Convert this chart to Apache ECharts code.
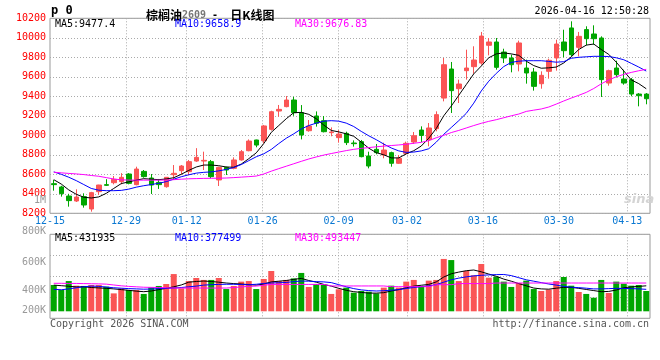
<!DOCTYPE html>
<html><head><meta charset="utf-8">
<script src="https://cdn.jsdelivr.net/npm/echarts@6/dist/echarts.min.js"></script>
<style>html,body{margin:0;padding:0;background:#fff}#c{width:660px;height:360px}</style>
</head><body><div id="c"></div>
<script>
// ---------- data ----------
const dates = ['12-15','12-16','12-17','12-18','12-19','12-22','12-23','12-24','12-25','12-26','12-29','12-30','12-31',
 '01-05','01-06','01-07','01-08','01-09','01-12','01-13','01-14','01-15','01-16','01-19','01-20','01-21','01-22','01-23',
 '01-26','01-27','01-28','01-29','01-30','02-02','02-03','02-04','02-05','02-06','02-09','02-10','02-11','02-12','02-13',
 '02-24','02-25','02-26','02-27','03-02','03-03','03-04','03-05','03-06','03-09','03-10','03-11','03-12','03-13',
 '03-16','03-17','03-18','03-19','03-20','03-23','03-24','03-25','03-26','03-27','03-30','03-31',
 '04-01','04-02','04-03','04-07','04-08','04-09','04-10','04-13','04-14','04-15','04-16'];
const labelIndex = [0,10,18,28,38,47,57,67,76];

const opens = [8504,8470,8377,8326,8371,8244,8422,8494,8514,8525, 8603,8494,8630,8562,8517,8473,8596,8637,8627,8736,
 8736,8730,8542,8671,8661,8747,8842,8952,8945,9061, 9249,9294,9362,9232,9047,9198,9150,9027,8976,9020,
 8921,8935,8788,8856,8798,8822,8713,8815,8931,9054, 8955,9068,9382,9680,9478,9663,9704,9741,9923,9957,
 9854,9793,9731,9690,9649,9529,9656,9793,9957,10101, 9902,10084,10039,9998,9536,9690,9577,9570,9423,9423];
const closes = [8494,8401,8330,8367,8285,8412,8490,8487,8548,8569, 8507,8654,8576,8490,8494,8569,8610,8685,8730,8774,
 8743,8576,8671,8644,8747,8832,8941,8900,9096,9242, 9266,9362,9232,9003,9095,9123,9037,9034,9013,8925,
 8914,8781,8685,8822,8849,8713,8764,8918,8996,8999, 9075,9212,9724,9458,9526,9690,9772,10018,9957,9697,
 9793,9724,9947,9639,9502,9615,9769,9936,9868,9827, 10015,9991,9991,9571,9663,9622,9536,9423,9406,9375];
const lows = [8432,8371,8268,8316,8258,8217,8390,8480,8497,8497, 8497,8487,8565,8398,8450,8463,8548,8600,8590,8728,
 8644,8559,8480,8593,8651,8740,8836,8877,8918,9048, 9191,9287,9200,8958,9037,9089,9030,8990,8925,8900,
 8884,8774,8661,8805,8764,8678,8706,8800,8911,8931, 8887,9041,9348,9229,9331,9571,9632,9724,9820,9673,
 9741,9646,9656,9530,9458,9478,9581,9663,9800,9810, 9810,9923,9930,9393,9509,9594,9519,9400,9297,9318];
const highs = [8542,8482,8400,8446,8405,8420,8492,8550,8582,8612, 8612,8678,8644,8603,8552,8570,8695,8695,8747,8868,
 8832,8747,8678,8678,8774,8849,8958,8955,9106,9252, 9311,9403,9395,9310,9157,9245,9198,9081,9054,9037,
 8948,8952,8832,8911,8924,8832,8798,8935,9034,9092, 9126,9246,9793,9752,9571,9878,9913,10060,9998,9998,
 9888,9827,9971,9776,9690,9656,9786,9981,10083,10169, 10060,10118,10128,10015,9673,9765,9673,9588,9433,9433];

const ma5 = [8545,8500,8440,8395,8365,8357,8368,8405,8455,8505, 8522,8540,8555,8550,8545,8552,8565,8600,8640,8675,
 8695,8695,8688,8675,8672,8705,8760,8820,8915,9030, 9100,9170,9232,9235,9215,9170,9105,9050,9035,9015,
 8990,8930,8868,8822,8800,8768,8768,8810,8842,8890, 8970,9070,9200,9300,9410,9520,9630,9710,9795,9835,
 9845,9835,9820,9760,9715,9688,9692,9700,9742,9805, 9880,9925,9936,9880,9830,9750,9660,9568,9530,9477.4];
const ma10 = [8625,8600,8570,8535,8495,8455,8437,8432,8432,8435, 8448,8468,8483,8495,8508,8525,8550,8575,8595,8612,
 8620,8625,8635,8650,8670,8700,8740,8780,8810,8855, 8915,8970,9015,9065,9100,9125,9145,9150,9145,9125,
 9090,9040,8995,8955,8910,8870,8840,8825,8828,8840, 8862,8930,9010,9080,9150,9225,9330,9455,9555,9635,
 9705,9748,9760,9765,9765,9765,9758,9750,9755,9790, 9800,9805,9810,9810,9808,9795,9775,9738,9700,9658.9];
const ma30 = [8621,8615,8609,8604,8597,8588,8580,8566,8552,8543, 8541,8540,8540,8540,8540,8541,8545,8550,8554,8556,
 8558,8559,8560,8562,8566,8571,8576,8582,8603,8632, 8658,8683,8708,8733,8757,8778,8797,8813,8828,8843,
 8856,8866,8874,8882,8889,8895,8901,8908,8918,8928, 8945,8975,9000,9028,9050,9075,9100,9123,9143,9160,
 9180,9200,9218,9245,9258,9270,9290,9320,9352,9382, 9410,9440,9480,9528,9568,9600,9625,9645,9662,9676.83];

// volume in thousands (K)
const volumeK = [438,402,466,433,431,438,438,426,378,414, 402,402,374,421,431,445,516,414,466,488,
 474,474,488,409,431,462,466,409,481,538, 466,474,485,524,424,445,438,374,407,419,
 383,395,390,378,419,433,419,462,474,426, 469,474,624,616,466,538,507,588,490,497,
 462,424,452,469,409,395,405,466,495,433, 388,374,347,474,381,462,447,433,438,395];
const volMa5 = [437,433,429,424,425,420,417,414,410,405, 400,394,390,395,405,414,425,438,458,463,
 466,463,458,452,448,445,440,437,445,460, 465,470,478,485,470,458,442,430,414,400,
 390,385,380,380,383,395,405,418,430,436, 442,460,495,518,530,540,545,532,516,500,
 480,465,448,432,416,410,408,415,421,421, 414,406,398,390,392,402,418,424,428,432];
const volMa10 = [407,404,410,418,425,430,428,423,418,415, 412,410,408,409,412,414,416,420,425,430,
 437,440,442,443,443,441,440,443,449,452, 454,456,462,466,465,462,460,455,440,425,
 412,403,398,395,397,401,405,413,420,426, 432,440,458,475,487,496,503,507,510,512,
 513,505,490,475,465,455,445,437,428,422, 419,415,410,410,412,414,413,412,410,407];
const volMa30 = [450,450,449,449,448,447,446,444,438,432, 428,425,422,421,420,418,416,416,416,416,
 416,416,416,416,420,424,428,430,436,442, 442,442,442,442,442,442,442,431,431,431,
 431,431,431,431,431,426,426,426,426,426, 426,440,440,440,448,448,448,448,448,452,
 452,452,452,452,452,452,452,452,452,452, 452,452,452,452,452,452,452,452,452,452];

const priceMin = 8200, priceMax = 10200, priceStep = 200;
const volMin = 200, volMax = 800, volStep = 200, volGridStep = 150, volBarBase = 250;

const headerCode = 'p 0';
const titleName = '棕榈油', titleCode = '2609', titleSep = ' -  ', titleRest = '日K线图';
const timeStamp = '2026-04-16 12:50:28';
const maLegend = ['MA5:9477.4', 'MA10:9658.9', 'MA30:9676.83'];
const volLegend = ['MA5:431935', 'MA10:377499', 'MA30:493447'];
const periodLabel = '1M';
const copyright = 'Copyright 2026 SINA.COM';
const siteUrl = 'http://finance.sina.com.cn';
const watermark = 'sina';

// ---------- style ----------
const MONO = '"DejaVu Sans Mono","Liberation Mono",monospace';
const CJK = '"Noto Sans CJK SC","DejaVu Sans",sans-serif';
const UP = '#fa5555', DOWN = '#00a600';
const LINE_COLORS = ['#000000', '#0000ff', '#ff00ff'];
const DOT = {type: [1, 2], color: '#aaaaaa', width: 1};
const labelSet = new Set(labelIndex);

const candleData = opens.map((o, i) => [o, closes[i], lows[i], highs[i]]);
const volBars = volumeK.map((v, i) => ({
  value: v - volBarBase,
  itemStyle: {color: closes[i] >= opens[i] ? UP : DOWN}
}));
const volBase = volumeK.map(() => volBarBase);

function txt(text, x, y, fill, font, align, valign) {
  return {type: 'text', x: x, y: y, silent: true, z: 100,
    style: {text: text, fill: fill, font: font, textAlign: align || 'left', textVerticalAlign: valign || 'middle'}};
}

const chart = echarts.init(document.getElementById('c'), null, {renderer: 'canvas'});
chart.setOption({
  animation: false,
  backgroundColor: '#ffffff',
  title: {
    text: `{a|${titleName}}{b|${titleCode}}{d|${titleSep}}{a|${titleRest}}`,
    left: 141, top: 2,
    textStyle: {rich: {
      a: {fontFamily: CJK, fontSize: 12, color: '#000', lineHeight: 16},
      b: {fontFamily: MONO, fontSize: 10, color: '#777', lineHeight: 16},
      d: {fontFamily: MONO, fontSize: 10, color: '#000', lineHeight: 16}
    }}
  },
  grid: [
    {left: 50, right: 10, top: 18.3, height: 195, show: true, borderColor: '#999', borderWidth: 1},
    {left: 50, right: 10, top: 234.3, height: 84, show: true, borderColor: '#999', borderWidth: 1}
  ],
  xAxis: [
    {type: 'category', gridIndex: 0, data: dates, boundaryGap: true, position: 'top',
     axisLine: {show: false}, axisTick: {show: false}, axisLabel: {show: false}, splitLine: {show: false}},
    {type: 'category', gridIndex: 0, data: dates, boundaryGap: false, position: 'bottom',
     axisLine: {show: false}, axisTick: {show: false},
     axisLabel: {show: true, interval: (i) => labelSet.has(i), color: '#0a78d2', fontFamily: MONO, fontSize: 10, margin: 3},
     splitLine: {show: true, interval: (i) => i > 0 && labelSet.has(i), lineStyle: DOT}},
    {type: 'category', gridIndex: 1, data: dates, boundaryGap: true, position: 'top',
     axisLine: {show: false}, axisTick: {show: false}, axisLabel: {show: false}, splitLine: {show: false}},
    {type: 'category', gridIndex: 1, data: dates, boundaryGap: false, position: 'bottom',
     axisLine: {show: false}, axisTick: {show: false}, axisLabel: {show: false},
     splitLine: {show: true, interval: (i) => i > 0 && labelSet.has(i), lineStyle: DOT}}
  ],
  yAxis: [
    {type: 'value', gridIndex: 0, min: priceMin, max: priceMax, interval: priceStep, position: 'left',
     axisLine: {show: false}, axisTick: {show: false},
     axisLabel: {color: '#ff0000', fontFamily: MONO, fontSize: 10, margin: 4, formatter: (v) => String(v)},
     splitLine: {show: true, lineStyle: DOT}},
    {type: 'value', gridIndex: 1, min: volMin, max: volMax, interval: volStep, position: 'left',
     axisLine: {show: false}, axisTick: {show: false}, splitLine: {show: false},
     axisLabel: {color: '#999', fontFamily: MONO, fontSize: 10, margin: 4,
       formatter: (v) => v === volMin ? `{lo|${v}K}` : (v === volMax ? `{hi|${v}K}` : `{n|${v}K}`),
       rich: {
         lo: {color: '#999', fontFamily: MONO, fontSize: 10, padding: [0, 0, 16, 0]},
         hi: {color: '#999', fontFamily: MONO, fontSize: 10, padding: [0, 0, 6, 0]},
         n: {color: '#999', fontFamily: MONO, fontSize: 10}
       }}},
    {type: 'value', gridIndex: 1, min: volMin, max: volMax, interval: volGridStep, position: 'right',
     axisLine: {show: false}, axisTick: {show: false}, axisLabel: {show: false},
     splitLine: {show: true, lineStyle: DOT}}
  ],
  series: [
    {type: 'candlestick', xAxisIndex: 0, yAxisIndex: 0, data: candleData, barWidth: 5,
     itemStyle: {color: UP, color0: DOWN, borderColor: UP, borderColor0: DOWN, borderWidth: 1}},
    {type: 'line', xAxisIndex: 0, yAxisIndex: 0, data: ma5, symbol: 'none', lineStyle: {color: LINE_COLORS[0], width: 1}, z: 3},
    {type: 'line', xAxisIndex: 0, yAxisIndex: 0, data: ma10, symbol: 'none', lineStyle: {color: LINE_COLORS[1], width: 1}, z: 3},
    {type: 'line', xAxisIndex: 0, yAxisIndex: 0, data: ma30, symbol: 'none', lineStyle: {color: LINE_COLORS[2], width: 1}, z: 3},
    {type: 'bar', xAxisIndex: 2, yAxisIndex: 1, data: volBase, stack: 'vol', barWidth: 6, silent: true,
     itemStyle: {color: 'rgba(0,0,0,0)'}},
    {type: 'bar', xAxisIndex: 2, yAxisIndex: 1, data: volBars, stack: 'vol', barWidth: 6},
    {type: 'line', xAxisIndex: 2, yAxisIndex: 1, data: volMa5, symbol: 'none', lineStyle: {color: LINE_COLORS[0], width: 1}, z: 3},
    {type: 'line', xAxisIndex: 2, yAxisIndex: 1, data: volMa10, symbol: 'none', lineStyle: {color: LINE_COLORS[1], width: 1}, z: 3},
    {type: 'line', xAxisIndex: 2, yAxisIndex: 1, data: volMa30, symbol: 'none', lineStyle: {color: LINE_COLORS[2], width: 1}, z: 3}
  ],
  graphic: [
    txt(headerCode, 51, 11, '#000', 'bold 12px ' + MONO),
    txt(timeStamp, 649, 11.5, '#000', '10px ' + MONO, 'right'),
    txt(maLegend[0], 55, 24, LINE_COLORS[0], '10px ' + MONO),
    txt(maLegend[1], 175, 24, LINE_COLORS[1], '10px ' + MONO),
    txt(maLegend[2], 295, 24, LINE_COLORS[2], '10px ' + MONO),
    txt(volLegend[0], 55, 238.5, LINE_COLORS[0], '10px ' + MONO),
    txt(volLegend[1], 175, 238.5, LINE_COLORS[1], '10px ' + MONO),
    txt(volLegend[2], 295, 238.5, LINE_COLORS[2], '10px ' + MONO),
    txt(periodLabel, 46, 200.5, '#999', '10px ' + MONO, 'right'),
    txt(watermark, 624, 200, '#d4d4d4', 'italic bold 13px "DejaVu Sans",sans-serif'),
    txt(copyright, 50, 324, '#555', '10px ' + MONO),
    txt(siteUrl, 649, 324, '#555', '10px ' + MONO, 'right')
  ]
});
</script>
</body></html>
